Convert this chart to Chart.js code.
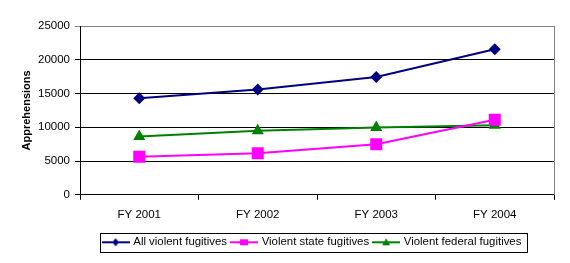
<!DOCTYPE html>
<html>
<head>
<meta charset="utf-8">
<script src="https://cdn.jsdelivr.net/npm/chart.js@4/dist/chart.umd.min.js"></script>
<style>
  html, body { margin: 0; padding: 0; background: #fff; }
</style>
</head>
<body>
<canvas id="canvas" width="570" height="263"></canvas>
<script>
const categories = ['FY 2001', 'FY 2002', 'FY 2003', 'FY 2004'];
const seriesNames = ['All violent fugitives', 'Violent state fugitives', 'Violent federal fugitives'];
const allViolent = [14300, 15600, 17450, 21550];
const stateViolent = [5650, 6150, 7500, 11100];
const federalViolent = [8650, 9500, 9950, 10300];
const yMax = 25000;
const yStep = 5000;

const navy = '#000080';
const magenta = '#FF00FF';
const green = '#008000';
const fontFamily = 'Liberation Sans, Arial';

// little legend symbols: a line with the marker in the middle
let legendSymbol = function (color, shape) {
    const c = document.createElement('canvas');
    c.width = 28;
    c.height = 12;
    const ctx = c.getContext('2d');
    ctx.strokeStyle = color;
    ctx.fillStyle = color;
    ctx.lineWidth = 2;
    ctx.beginPath();
    ctx.moveTo(0, 6);
    ctx.lineTo(28, 6);
    ctx.stroke();
    ctx.beginPath();
    if (shape === 'diamond') {
        ctx.moveTo(14, 2); ctx.lineTo(17.5, 6); ctx.lineTo(14, 10); ctx.lineTo(10.5, 6);
    } else if (shape === 'square') {
        ctx.rect(10, 3, 8, 6);
    } else {
        ctx.moveTo(14, 2); ctx.lineTo(18, 9); ctx.lineTo(10, 9);
    }
    ctx.closePath();
    ctx.fill();
    return c;
};

const symbols = [legendSymbol(navy, 'diamond'), legendSymbol(magenta, 'square'), legendSymbol(green, 'triangle')];

const framePlugin = {
    id: 'frame',
    afterLayout(chart) {
        // excel centres the legend a bit right of the canvas middle
        const L = chart.legend;
        const dx = 312.5 - (L.left + L.right) / 2;
        L.left += dx;
        L.right += dx;
    },
    beforeDatasetsDraw(chart) {
        const ctx = chart.ctx;
        const a = chart.chartArea;
        const x = Math.round(a.right) + 0.5;
        ctx.save();
        ctx.strokeStyle = '#808080';
        ctx.lineWidth = 1;
        ctx.beginPath();
        ctx.moveTo(x, a.top);
        ctx.lineTo(x, a.bottom);
        ctx.stroke();
        ctx.restore();
    },
    afterDraw(chart) {
        const boxes = chart.legend.legendHitBoxes;
        if (!boxes || !boxes.length) return;
        const ctx = chart.ctx;
        let left = Math.min(...boxes.map(b => b.left)) - 4;
        let right = Math.max(...boxes.map(b => b.left + b.width)) + 5;
        let top = boxes[0].top - 4;
        let bottom = boxes[0].top + boxes[0].height + 4;
        ctx.save();
        ctx.strokeStyle = '#000';
        ctx.lineWidth = 1;
        ctx.strokeRect(Math.round(left) + 0.5, Math.round(top) + 0.5, Math.round(right - left), Math.round(bottom - top));
        ctx.restore();
    }
};

new Chart(document.getElementById('canvas').getContext('2d'), {
    type: 'line',
    data: {
        labels: categories,
        datasets: [{
            label: seriesNames[0],
            data: allViolent,
            borderColor: navy,
            backgroundColor: navy,
            borderWidth: 2,
            pointStyle: 'rectRot',
            pointRadius: 6,
            pointBorderWidth: 0
        }, {
            label: seriesNames[1],
            data: stateViolent,
            borderColor: magenta,
            backgroundColor: magenta,
            borderWidth: 2,
            pointStyle: 'rect',
            pointRadius: 8.5,
            pointBorderWidth: 0
        }, {
            label: seriesNames[2],
            data: federalViolent,
            borderColor: green,
            backgroundColor: green,
            borderWidth: 2,
            pointStyle: 'triangle',
            pointRadius: 7,
            pointBorderWidth: 0
        }]
    },
    options: {
        responsive: false,
        animation: false,
        layout: {
            padding: { top: 26, right: 16, left: 0, bottom: 5 }
        },
        plugins: {
            tooltip: { enabled: false },
            legend: {
                position: 'bottom',
                labels: {
                    usePointStyle: true,
                    pointStyleWidth: 24,
                    boxHeight: 11,
                    padding: 5,
                    color: '#000',
                    font: { family: fontFamily, size: 11.4 },
                    generateLabels: function (chart) {
                        return chart.data.datasets.map((d, i) => ({
                            text: d.label,
                            pointStyle: symbols[i],
                            fillStyle: d.borderColor,
                            strokeStyle: d.borderColor,
                            lineWidth: 0,
                            datasetIndex: i
                        }));
                    }
                }
            }
        },
        scales: {
            x: {
                offset: true,
                afterFit: function (scale) { scale.height += 2; },
                grid: {
                    offset: true,
                    drawOnChartArea: false,
                    color: '#000',
                    tickLength: 5
                },
                border: { color: '#000', width: 1 },
                ticks: {
                    color: '#000',
                    padding: 8,
                    font: { family: fontFamily, size: 11.5 }
                }
            },
            y: {
                min: 0,
                max: yMax,
                afterFit: function (scale) { scale.width = 80; },
                title: {
                    display: true,
                    text: 'Apprehensions',
                    color: '#000',
                    padding: { top: 20, bottom: 0 },
                    font: { family: fontFamily, size: 11, weight: 'bold' }
                },
                ticks: {
                    stepSize: yStep,
                    color: '#000',
                    padding: 5,
                    font: { family: fontFamily, size: 11.5 },
                    callback: v => String(v)
                },
                grid: {
                    color: ctx => ctx.tick && ctx.tick.value === yMax ? '#808080' : '#000',
                    tickLength: 5
                },
                border: { color: '#000', width: 1 }
            }
        }
    },
    plugins: [framePlugin]
});
</script>
</body>
</html>
